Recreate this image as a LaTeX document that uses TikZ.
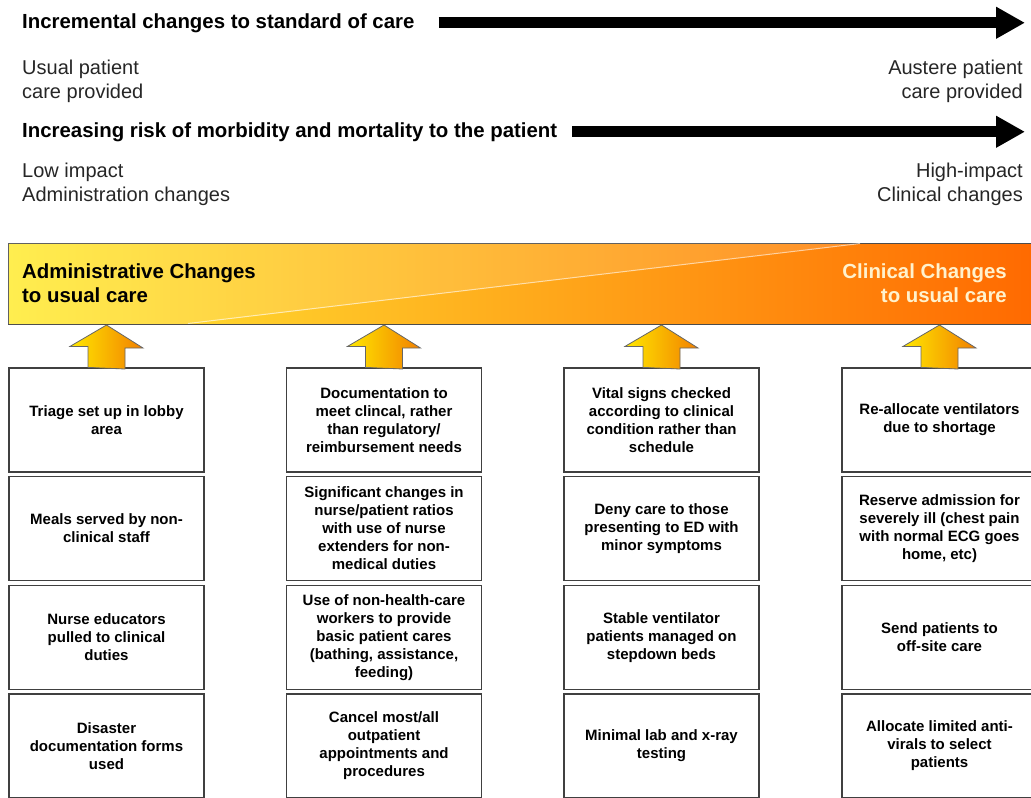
\documentclass[tikz,border=0pt]{standalone}
\usepackage{fontspec}
\setmainfont{Liberation Sans}
\usetikzlibrary{arrows.meta}
\definecolor{bandyellow}{RGB}{255,236,55}
\definecolor{bandmid}{RGB}{255,180,25}
\definecolor{bandorange}{RGB}{255,104,0}
\definecolor{arryellow}{RGB}{255,232,0}
\definecolor{arrorange}{RGB}{242,128,0}
\definecolor{cream}{RGB}{255,242,205}
\begin{document}
\begin{tikzpicture}[x=1pt,y=-1pt]
\tikzstyle{lbl}=[inner sep=0pt, font=\fontsize{20}{24}\selectfont, text=black!85];
\tikzstyle{head}=[inner sep=0pt, anchor=base west, font=\fontsize{20.4}{24}\selectfont\bfseries];
\tikzstyle{bigarr}=[line width=11pt, -{Triangle[length=29pt,width=30pt]}];
\tikzstyle{box}=[draw=black!75, line width=1.2pt, minimum width=195pt, minimum height=104pt, align=center, font=\fontsize{15}{18}\selectfont\bfseries];
\tikzstyle{uparr}=[draw=black!60, line width=0.8pt, left color=arryellow, right color=arrorange];
\useasboundingbox (0,0) rectangle (1031,798);
\clip (0,0) rectangle (1031,797.2);
% scales on top
\node [head] (h1) at (22,28) {Incremental changes to standard of care};
\coordinate (t1) at (1025,21.5);
\draw [bigarr] ([xshift=24pt]h1.east) -- (h1.east -| t1);
\node [lbl, anchor=north west, align=left] (l1) at (22,60) {Usual patient\\care provided};
\node [lbl, anchor=north east, align=right] (r1) at (1023,60) {Austere patient\\care provided};
\node [head] (h2) at (22,137) {Increasing risk of morbidity and mortality to the patient};
\draw [bigarr] ([xshift=15pt]h2.east) -- (h2.east -| t1);
\node [lbl, anchor=north west, align=left] (l2) at (22,162.5) {Low impact\\Administration changes};
\node [lbl, anchor=north east, align=right] (r2) at (1023,162.5) {High-impact\\Clinical changes};
% band
\node [draw=black!70, line width=1pt, anchor=north west, minimum width=1040pt, minimum height=81pt, left color=bandyellow, middle color=bandmid, right color=bandorange] (band) at (8,243) {};
\fill [white, opacity=0.12] (8,243) -- (860,243) -- (188,324) -- (8,324) -- cycle;
\draw [white, opacity=0.6, line width=1pt] (188,323.5) -- (860,243.5);
\node [head, anchor=north west, align=left] (b1) at (22,263.4) {Administrative Changes\\to usual care};
\node [head, anchor=north east, align=right, text=cream] (b2) at (1007,263.4) {Clinical Changes\\to usual care};
% boxes
\node [box] (v1) at (106.5,420) {Triage set up in lobby\\area};
\node [box] (v2) at (106.5,528.5) {Meals served by non-\\clinical staff};
\node [box] (v3) at (106.5,637.5) {Nurse educators\\pulled to clinical\\duties};
\node [box] (v4) at (106.5,746) {Disaster\\documentation forms\\used};
\node [box] (v5) at (384,420) {Documentation to\\meet clincal, rather\\than regulatory/\\reimbursement needs};
\node [box] (v6) at (384,528.5) {Significant changes in\\nurse/patient ratios\\with use of nurse\\extenders for non-\\medical duties};
\node [box] (v7) at (384,637.5) {Use of non-health-care\\workers to provide\\basic patient cares\\(bathing, assistance,\\feeding)};
\node [box] (v8) at (384,746) {Cancel most/all\\outpatient\\appointments and\\procedures};
\node [box] (v9) at (661.5,420) {Vital signs checked\\according to clinical\\condition rather than\\schedule};
\node [box] (v10) at (661.5,528.5) {Deny care to those\\presenting to ED with\\minor symptoms};
\node [box] (v11) at (661.5,637.5) {Stable ventilator\\patients managed on\\stepdown beds};
\node [box] (v12) at (661.5,746) {Minimal lab and x-ray\\testing};
\node [box] (v13) at (939.5,420) {Re-allocate ventilators\\due to shortage};
\node [box] (v14) at (939.5,528.5) {Reserve admission for\\severely ill (chest pain\\with normal ECG goes\\home, etc)};
\node [box] (v15) at (939.5,637.5) {Send patients to\\off-site care};
\node [box] (v16) at (939.5,746) {Allocate limited anti-\\virals to select\\patients};
% up arrows
\path [uparr] (v1.north) ++(-18.5,0) -- ++(0,-21) -- ++(-18,0) -- (v1.north |- band.south) -- ++(36.5,23) -- ++(-18,0) -- ++(0,21) -- cycle;
\path [uparr] (v5.north) ++(-18.5,0) -- ++(0,-21) -- ++(-18,0) -- (v5.north |- band.south) -- ++(36.5,23) -- ++(-18,0) -- ++(0,21) -- cycle;
\path [uparr] (v9.north) ++(-18.5,0) -- ++(0,-21) -- ++(-18,0) -- (v9.north |- band.south) -- ++(36.5,23) -- ++(-18,0) -- ++(0,21) -- cycle;
\path [uparr] (v13.north) ++(-18.5,0) -- ++(0,-21) -- ++(-18,0) -- (v13.north |- band.south) -- ++(36.5,23) -- ++(-18,0) -- ++(0,21) -- cycle;
\end{tikzpicture}
\end{document}
